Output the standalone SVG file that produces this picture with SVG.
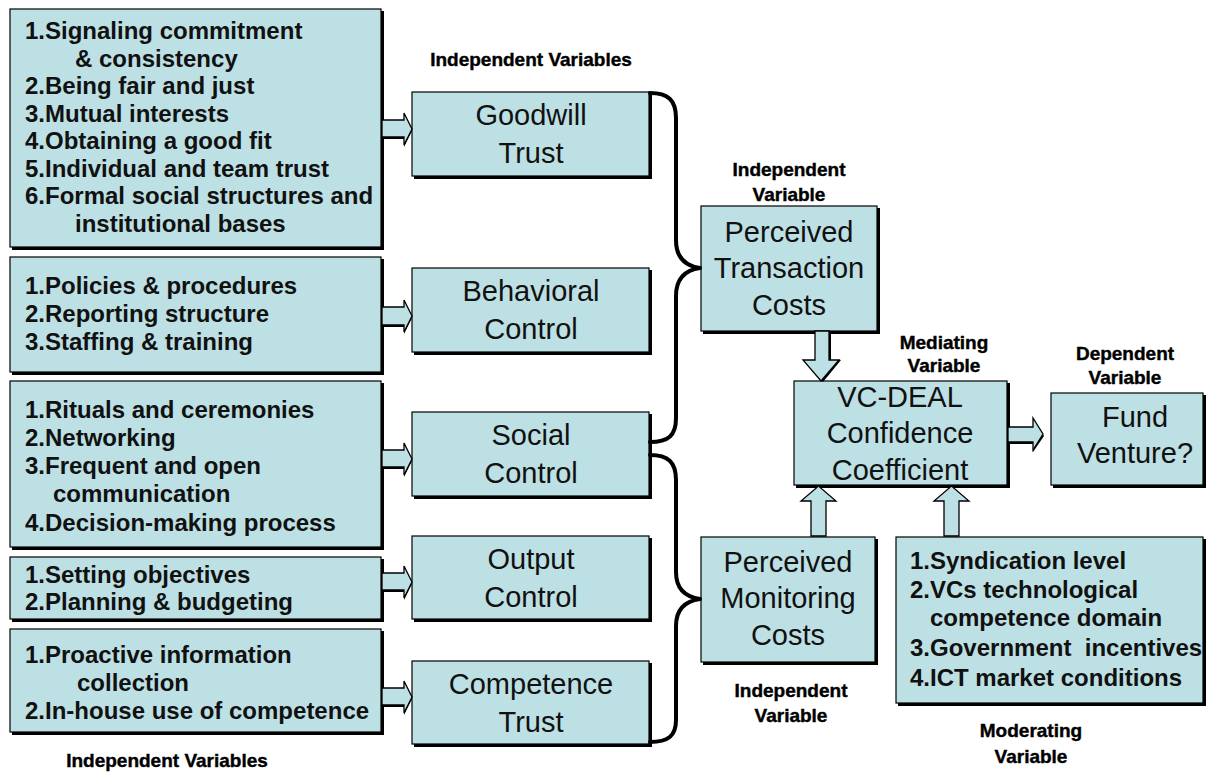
<svg xmlns="http://www.w3.org/2000/svg" width="1207" height="774" viewBox="0 0 1207 774">
<style>
.box{fill:#BDE0E4;stroke:#000;stroke-width:1.2}
.sh{fill:#000}
.arr{fill:#BDE0E4;stroke:#000;stroke-width:1.3;stroke-linejoin:miter}
.brace{fill:none;stroke:#000;stroke-width:4;stroke-linecap:round;stroke-linejoin:round}
.list{font-family:"Liberation Sans",Arial,sans-serif;font-weight:bold;font-size:24px;fill:#111;white-space:pre}
.node{font-family:"Liberation Sans",Arial,sans-serif;font-size:29px;fill:#111;text-anchor:middle}
.lbl{font-family:"Liberation Sans",Arial,sans-serif;font-weight:bold;font-size:19px;fill:#000;stroke:#000;stroke-width:0.4;text-anchor:middle}
</style>
<rect width="1207" height="774" fill="#fff"/>

<!-- Left list boxes -->
<g id="list-goodwill">
<rect class="sh" x="12" y="11" width="372" height="239"/>
<rect class="box" x="10" y="9" width="371" height="238"/>
<text class="list" x="25" y="39">1.Signaling commitment</text>
<text class="list" x="75" y="66.5">&amp; consistency</text>
<text class="list" x="25" y="94">2.Being fair and just</text>
<text class="list" x="25" y="121.5">3.Mutual interests</text>
<text class="list" x="25" y="149">4.Obtaining a good fit</text>
<text class="list" x="25" y="176.5">5.Individual and team trust</text>
<text class="list" x="25" y="204">6.Formal social structures and</text>
<text class="list" x="75" y="231.5">institutional bases</text>
</g>
<g id="list-behavioral">
<rect class="sh" x="12" y="259" width="372" height="116"/>
<rect class="box" x="10" y="257" width="371" height="115"/>
<text class="list" x="25" y="294">1.Policies &amp; procedures</text>
<text class="list" x="25" y="322">2.Reporting structure</text>
<text class="list" x="25" y="350">3.Staffing &amp; training</text>
</g>
<g id="list-social">
<rect class="sh" x="12" y="383" width="372" height="167"/>
<rect class="box" x="10" y="381" width="371" height="166"/>
<text class="list" x="25" y="418">1.Rituals and ceremonies</text>
<text class="list" x="25" y="446">2.Networking</text>
<text class="list" x="25" y="474">3.Frequent and open</text>
<text class="list" x="53" y="502">communication</text>
<text class="list" x="25" y="531">4.Decision-making process</text>
</g>
<g id="list-output">
<rect class="sh" x="12" y="559" width="372" height="63"/>
<rect class="box" x="10" y="557" width="371" height="62"/>
<text class="list" x="25" y="583">1.Setting objectives</text>
<text class="list" x="25" y="610">2.Planning &amp; budgeting</text>
</g>
<g id="list-competence">
<rect class="sh" x="12" y="631" width="372" height="104"/>
<rect class="box" x="10" y="629" width="371" height="103"/>
<text class="list" x="25" y="663">1.Proactive information</text>
<text class="list" x="77" y="691">collection</text>
<text class="list" x="25" y="719">2.In-house use of competence</text>
</g>

<!-- Middle nodes -->
<g id="goodwill-trust">
<rect class="sh" x="414" y="94" width="238" height="85"/>
<rect class="box" x="412" y="92" width="237" height="84"/>
<text class="node" x="531" y="125">Goodwill</text>
<text class="node" x="531" y="163">Trust</text>
</g>
<g id="behavioral-control">
<rect class="sh" x="414" y="270" width="238" height="85"/>
<rect class="box" x="412" y="268" width="237" height="84"/>
<text class="node" x="531" y="301">Behavioral</text>
<text class="node" x="531" y="339">Control</text>
</g>
<g id="social-control">
<rect class="sh" x="414" y="414" width="238" height="85"/>
<rect class="box" x="412" y="412" width="237" height="84"/>
<text class="node" x="531" y="445">Social</text>
<text class="node" x="531" y="483">Control</text>
</g>
<g id="output-control">
<rect class="sh" x="414" y="538" width="238" height="84"/>
<rect class="box" x="412" y="536" width="237" height="83"/>
<text class="node" x="531" y="569">Output</text>
<text class="node" x="531" y="607">Control</text>
</g>
<g id="competence-trust">
<rect class="sh" x="414" y="663" width="238" height="84"/>
<rect class="box" x="412" y="661" width="237" height="83"/>
<text class="node" x="531" y="694">Competence</text>
<text class="node" x="531" y="732">Trust</text>
</g>

<!-- Center / right nodes -->
<g id="ptc">
<rect class="sh" x="703" y="208" width="177" height="126"/>
<rect class="box" x="701" y="206" width="176" height="125"/>
<text class="node" x="789" y="242">Perceived</text>
<text class="node" x="789" y="278">Transaction</text>
<text class="node" x="789" y="315">Costs</text>
</g>
<g id="pmc">
<rect class="sh" x="703" y="539" width="175" height="126"/>
<rect class="box" x="701" y="537" width="174" height="125"/>
<text class="node" x="788" y="572">Perceived</text>
<text class="node" x="788" y="608">Monitoring</text>
<text class="node" x="788" y="645">Costs</text>
</g>
<g id="vc-deal">
<rect class="sh" x="796" y="383" width="214" height="105"/>
<rect class="box" x="794" y="381" width="213" height="104"/>
<text class="node" x="900" y="407">VC-DEAL</text>
<text class="node" x="900" y="443">Confidence</text>
<text class="node" x="900" y="480">Coefficient</text>
</g>
<g id="fund-venture">
<rect class="sh" x="1053" y="395" width="153" height="93"/>
<rect class="box" x="1051" y="393" width="152" height="92"/>
<text class="node" x="1135" y="427">Fund</text>
<text class="node" x="1135" y="463">Venture?</text>
</g>
<g id="moderators">
<rect class="sh" x="898" y="539" width="308" height="167"/>
<rect class="box" x="896" y="537" width="307" height="166"/>
<text class="list" x="910" y="569">1.Syndication level</text>
<text class="list" x="910" y="598">2.VCs technological</text>
<text class="list" x="930" y="626">competence domain</text>
<text class="list" x="910" y="656">3.Government  incentives</text>
<text class="list" x="910" y="686">4.ICT market conditions</text>
</g>

<!-- Labels -->
<g id="labels">
<text class="lbl" x="531" y="66">Independent Variables</text>
<text class="lbl" x="789" y="176">Independent</text>
<text class="lbl" x="789" y="201">Variable</text>
<text class="lbl" x="944" y="349">Mediating</text>
<text class="lbl" x="944" y="372">Variable</text>
<text class="lbl" x="1125" y="360">Dependent</text>
<text class="lbl" x="1125" y="384">Variable</text>
<text class="lbl" x="791" y="697">Independent</text>
<text class="lbl" x="791" y="722">Variable</text>
<text class="lbl" x="1031" y="737">Moderating</text>
<text class="lbl" x="1031" y="763">Variable</text>
<text class="lbl" x="167" y="767">Independent Variables</text>
</g>

<!-- Connectors -->
<g id="connectors">
<path class="brace" d="M650,93 C668,93 676,100 676,118 L676,240 C676,258 686,266 700,268 C686,270 676,278 676,296 L676,418 C676,436 668,442 650,442"/>
<path class="brace" d="M650,455 C668,455 676,462 676,480 L676,572 C676,590 686,597 700,599 C686,601 676,608 676,626 L676,720 C676,736 668,742 650,742"/>

<polygon class="sh" points="382,122 404,122 404,115 412,131 404,147 404,139 382,139"/>
<polygon class="arr" points="382,120 404,120 404,113 412,129 404,145 404,137 382,137"/>
<polygon class="sh" points="382,309 404,309 404,302 412,318 404,334 404,327 382,327"/>
<polygon class="arr" points="382,307 404,307 404,300 412,316 404,332 404,325 382,325"/>
<polygon class="sh" points="382,452 404,452 404,445 412,461 404,477 404,469 382,469"/>
<polygon class="arr" points="382,450 404,450 404,443 412,459 404,475 404,467 382,467"/>
<polygon class="sh" points="382,575 404,575 404,568 412,584 404,600 404,592 382,592"/>
<polygon class="arr" points="382,573 404,573 404,566 412,582 404,598 404,590 382,590"/>
<polygon class="sh" points="382,690 404,690 404,683 412,699 404,715 404,707 382,707"/>
<polygon class="arr" points="382,688 404,688 404,681 412,697 404,713 404,705 382,705"/>

<polygon class="sh" points="817,331 831,331 831,360 841,360 823,382 805,360 817,360"/>
<polygon class="arr" points="815,331 829,331 829,360 839,360 821,381 803,360 815,360"/>

<polygon class="arr" points="811,536 826,536 826,501 836,501 818.5,486 801,501 811,501"/>
<polygon class="arr" points="944,536 959,536 959,501 969,501 951.5,486 934,501 944,501"/>

<polygon class="sh" points="1008,429 1033,429 1033,420 1044,436 1033,452 1033,444 1008,444"/>
<polygon class="arr" points="1008,427 1033,427 1033,418 1043,434 1033,450 1033,442 1008,442"/>
</g>
</svg>
